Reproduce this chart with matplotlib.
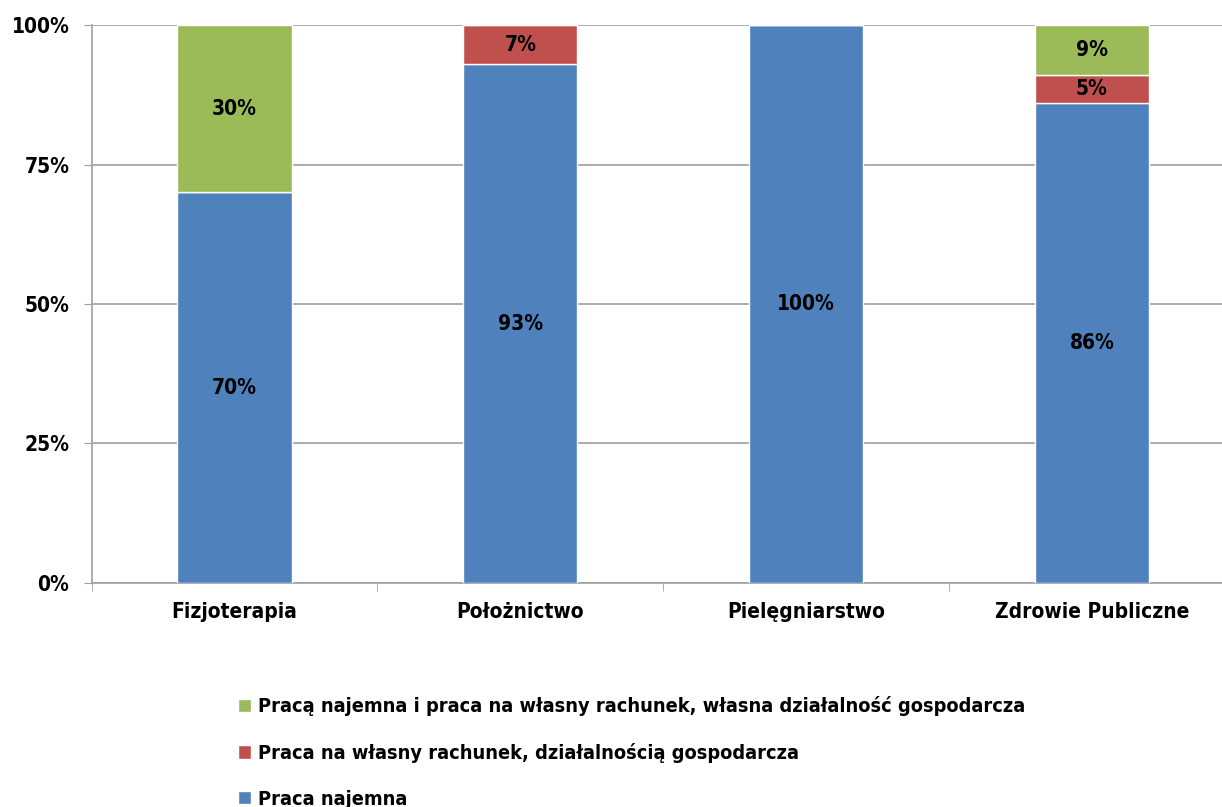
import numpy as np
import matplotlib.pyplot as plt
from matplotlib.ticker import PercentFormatter

# ---- DATA ----
categories = ["Fizjoterapia", "Położnictwo", "Pielęgniarstwo", "Zdrowie Publiczne"]
praca_najemna = [70, 93, 100, 86]
wlasny_rachunek = [0, 7, 0, 5]
najemna_i_wlasny = [30, 0, 0, 9]

labels = [
    "Praca najemna",
    "Praca na własny rachunek, działalnością gospodarcza",
    "Pracą najemna i praca na własny rachunek, własna działalność gospodarcza",
]
colors = ["#4F81BD", "#C0504D", "#9BBB59"]

plt.rcParams["font.family"] = ["DejaVu Sans"]
plt.rcParams["font.stretch"] = "condensed"
plt.rcParams["font.weight"] = "bold"

fig = plt.figure(figsize=(12.22, 8.07), dpi=100)
ax = fig.add_axes([0.0750, 0.2776, 0.9354, 0.6914])

x = np.arange(len(categories))
series = [praca_najemna, wlasny_rachunek, najemna_i_wlasny]
bottom = np.zeros(len(categories))
handles = []
for vals, col, lab in zip(series, colors, labels):
    vals = np.array(vals, dtype=float)
    bars = ax.bar(x, vals, width=0.4, bottom=bottom, color=col,
                  edgecolor="white", linewidth=1, label=lab, zorder=3)
    handles.append(bars)
    for xi, b, v in zip(x, bottom, vals):
        if v > 0:
            ax.text(xi, b + v / 2, f"{v:.0f}%", ha="center", va="center",
                    fontsize=15, fontweight="bold", color="black", zorder=4)
    bottom += vals

ax.set_xlim(-0.5, len(categories) - 0.5)
ax.set_ylim(0, 100)
ax.set_yticks([0, 25, 50, 75, 100])
ax.yaxis.set_major_formatter(PercentFormatter(decimals=0))
ax.grid(axis="y", color="#A0A0A0", linewidth=1.2, zorder=0)

ax.set_xticks(x)
ax.set_xticklabels(categories, fontsize=15, fontweight="bold")
ax.set_xticks(np.arange(-0.5, len(categories)), minor=True)
ax.tick_params(axis="x", which="major", length=0, pad=14)
ax.tick_params(axis="x", which="minor", length=6, color="#A0A0A0")
ax.tick_params(axis="y", length=6, color="#A0A0A0", labelsize=15, pad=10)
for t in ax.get_yticklabels():
    t.set_fontweight("bold")

for s in ["top", "right"]:
    ax.spines[s].set_visible(False)
for s in ["left", "bottom"]:
    ax.spines[s].set_color("#A0A0A0")
    ax.spines[s].set_linewidth(1.2)

fig.legend(handles[::-1], labels[::-1], loc="upper left",
           bbox_to_anchor=(0.188, 0.147), frameon=False,
           prop={"size": 14.3, "weight": "bold", "stretch": "condensed"},
           handlelength=0.65, handleheight=0.65, handletextpad=0.35,
           labelspacing=1.34, borderaxespad=0)

fig.savefig("out.png", dpi=100)
